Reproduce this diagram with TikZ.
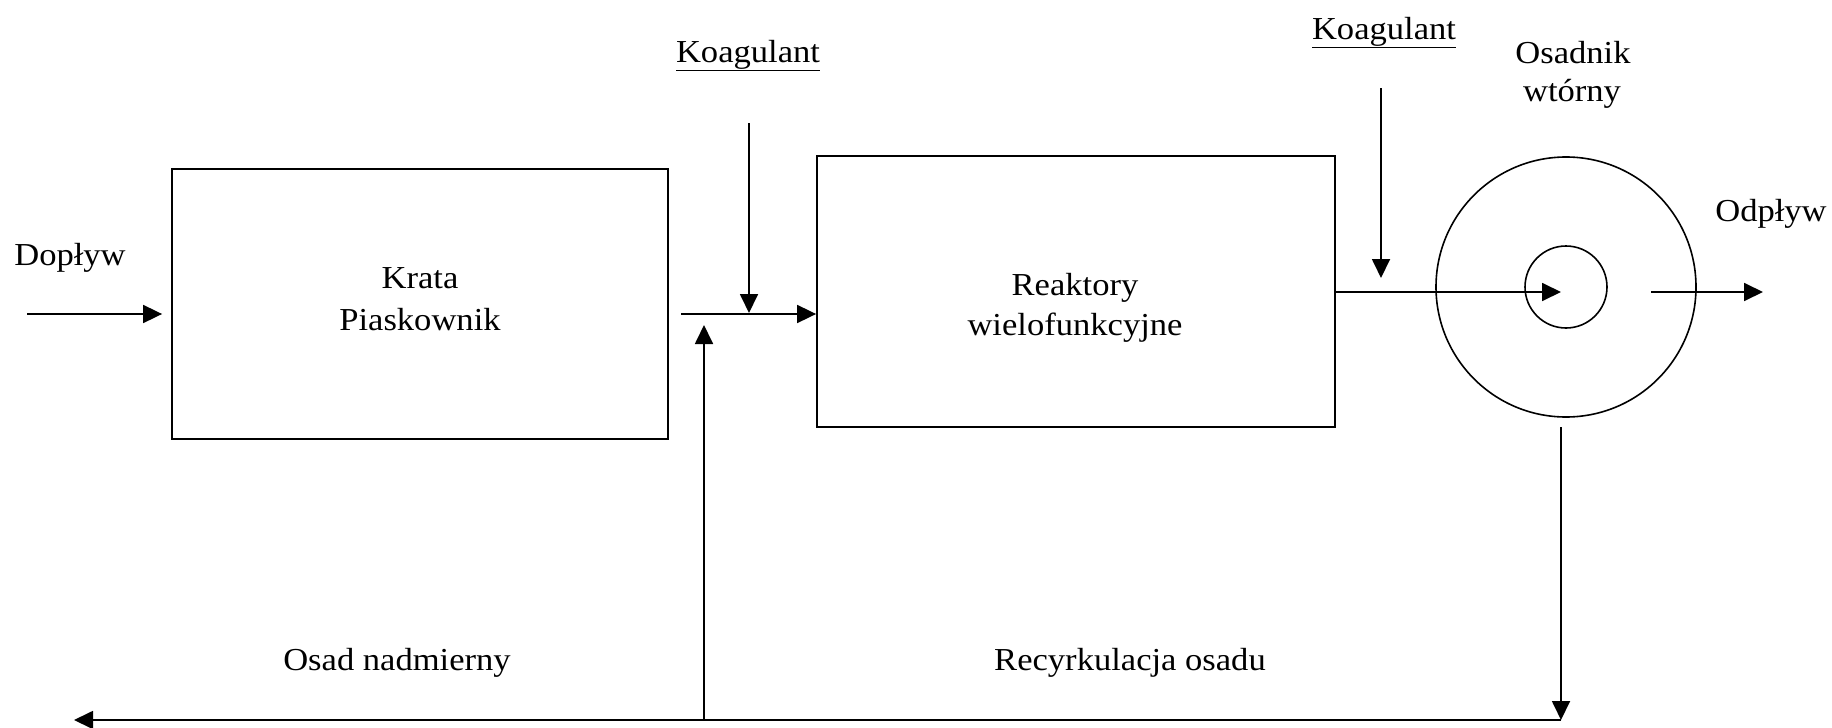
\documentclass[tikz,border=0pt]{standalone}
\usepackage{fontspec}
\setmainfont{Liberation Serif}[FakeStretch=1.08]
\usetikzlibrary{arrows.meta}
\begin{document}
\begin{tikzpicture}[x=1pt,y=-1pt,line width=1.8pt,
  every node/.style={font=\fontsize{32}{38}\selectfont, inner sep=0pt},
  box/.style={draw, rectangle, inner sep=0pt},
  ring/.style={draw, circle, inner sep=0pt, line width=1.6pt},
  lbl/.style={anchor=base},
  arr/.style={-{Triangle[length=19pt,width=18pt]}}]
\useasboundingbox (0,0) rectangle (1832,728);
% units
\node[box, minimum width=496pt, minimum height=270pt] (box1) at (420,304) {};
\node[box, minimum width=518pt, minimum height=271pt] (box2) at (1076,291.5) {};
\node[ring, minimum size=260pt] (osad) at (1566,287) {};
\node[ring, minimum size=82pt] (core) at (1566,287) {};
% labels
\node[lbl] (tdop) at (70,265) {Dopływ};
\node[lbl] (tkr1) at (420,288) {Krata};
\node[lbl] (tkr2) at (420,330) {Piaskownik};
\node[lbl] (tk1) at (748,62) {\underline{Koagulant}};
\node[lbl] (tre1) at (1075,295) {Reaktory};
\node[lbl] (tre2) at (1075,335) {wielofunkcyjne};
\node[lbl] (tk2) at (1384,39) {\underline{Koagulant}};
\node[lbl] (tos1) at (1573,63) {Osadnik};
\node[lbl] (tos2) at (1572,101) {wtórny};
\node[lbl] (todp) at (1771,221) {Odpływ};
\node[lbl] (tnad) at (397,670) {Osad nadmierny};
\node[lbl] (trec) at (1130,670) {Recyrkulacja osadu};
% connectors
\coordinate (inS) at (27,314);
\draw[arr, shorten >=9pt] (inS) -- (inS -| box1.west);
\coordinate (j0) at (681,314);
\draw[arr] (j0) -- (j0 -| box2.west);
\coordinate (k1s) at (749,123);
\coordinate (k1e) at (749,313);
\draw[arr] (k1s) -- (k1e);
\coordinate (r1) at (704,720);
\coordinate (r1e) at (704,325);
\draw[arr] (r1) -- (r1e);
\coordinate (m2) at (1561,292);
\draw[arr] (box2.east |- m2) -- (m2);
\coordinate (k2s) at (1381,88);
\coordinate (k2e) at (1381,278);
\draw[arr] (k2s) -- (k2e);
\coordinate (os) at (1651,292);
\coordinate (oe) at (1763,292);
\draw[arr] (os) -- (oe);
\coordinate (rs) at (1561,427);
\coordinate (rc) at (1561,720);
\coordinate (le) at (74,720);
\draw[arr] (rs) -- (rc);
\draw[arr] (rc) -- (le);
\end{tikzpicture}
\end{document}
